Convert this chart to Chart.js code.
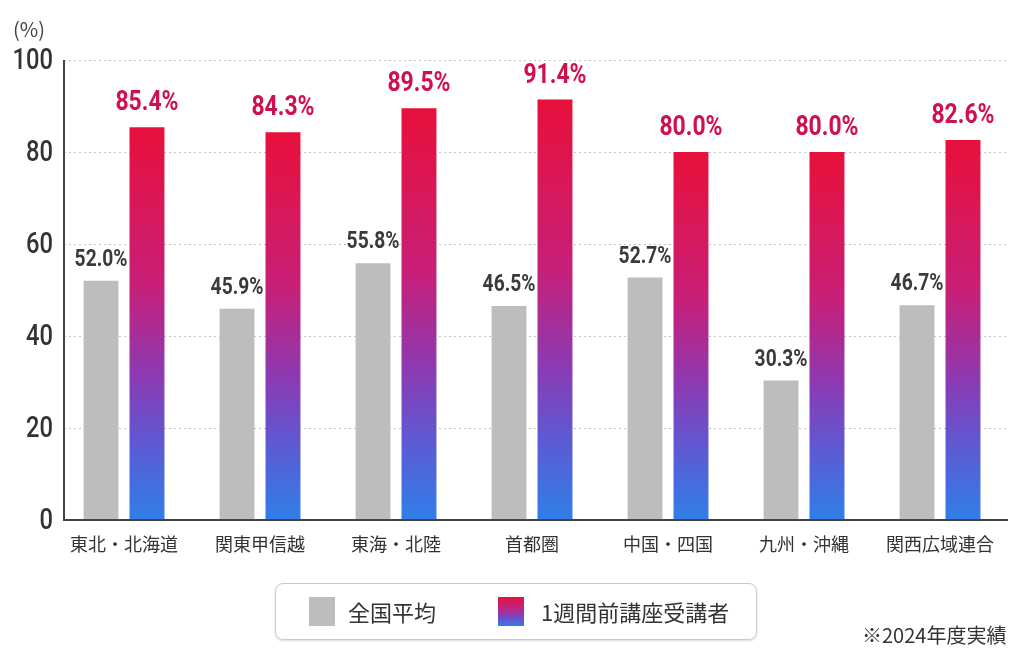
<!DOCTYPE html>
<html>
<head>
<meta charset="utf-8">
<script src="https://cdn.jsdelivr.net/npm/chart.js@4/dist/chart.umd.min.js"></script>
<style>
  html, body { margin: 0; padding: 0; background: #fff; }
  #wrap { position: relative; width: 1024px; height: 664px; }
  #legendBox {
    position: absolute; left: 275px; top: 583px; width: 480px; height: 55px;
    border: 1px solid #c8c8c8; border-radius: 8px; box-shadow: 0 1px 2px rgba(0,0,0,0.15);
    font-family: "Noto Sans CJK JP", sans-serif; font-size: 22px; color: #333;
  }
  .sw { position: absolute; top: 13px; width: 26px; height: 29px; }
  .lbl { position: absolute; top: 11px; line-height: 32px; white-space: nowrap; }
  #note {
    position: absolute; left: 862px; top: 620px; white-space: nowrap;
    font-family: "Noto Sans CJK JP", sans-serif; font-size: 20px; color: #333;
  }
</style>
</head>
<body>
<div id="wrap">
  <canvas id="chart" width="1024" height="664"></canvas>
  <div id="legendBox">
    <div class="sw" style="left:33px;background:#bdbdbd"></div>
    <div class="lbl" id="lg0" style="left:72px"></div>
    <div class="sw" style="left:222px;background:linear-gradient(#e8103a,#b42a8e 45%,#7548c4 70%,#2f7fe8)"></div>
    <div class="lbl" id="lg1" style="left:265px"></div>
  </div>
  <div id="note">※2024年度実績</div>
</div>
<script>
// data
var regions = ["東北・北海道", "関東甲信越", "東海・北陸", "首都圏", "中国・四国", "九州・沖縄", "関西広域連合"];
var nationalAvg = [52.0, 45.9, 55.8, 46.5, 52.7, 30.3, 46.7];
var lectureTakers = [85.4, 84.3, 89.5, 91.4, 80.0, 80.0, 82.6];
var seriesNames = ["全国平均", "1週間前講座受講者"];
var yTicks = [0, 20, 40, 60, 80, 100];

document.getElementById("lg0").textContent = seriesNames[0];
document.getElementById("lg1").textContent = seriesNames[1];

var AXIS_SHIFT = 8;

function barGradient(ctx) {
  var chart = ctx.chart;
  if (!chart.chartArea || ctx.type !== "data") return "#d0104c";
  var ys = chart.scales.y;
  var top = ys.getPixelForValue(ctx.raw);
  var bottom = ys.getPixelForValue(0);
  var g = chart.ctx.createLinearGradient(0, top, 0, bottom);
  g.addColorStop(0, "#e8103a");
  g.addColorStop(0.4, "#c81f78");
  g.addColorStop(0.62, "#8f38b0");
  g.addColorStop(0.8, "#5f58d2");
  g.addColorStop(1, "#2f7fe8");
  return g;
}

// draw text squeezed horizontally (the numerals in the original are condensed)
function narrowText(c, txt, x, y, font, sx, align) {
  c.save();
  c.font = font;
  var w = c.measureText(txt).width * sx;
  var x0 = align === "right" ? x - w : (align === "center" ? x - w / 2 : x);
  c.translate(x0, y);
  c.scale(sx, 1);
  c.textAlign = "left";
  c.fillText(txt, 0, 0);
  c.restore();
}

var decor = {
  id: "decor",
  beforeDatasetsDraw: function(chart) {
    var c = chart.ctx, a = chart.chartArea, ys = chart.scales.y;
    var left = a.left + AXIS_SHIFT;
    c.save();
    c.strokeStyle = "#c4c4c4";
    c.lineWidth = 1;
    c.setLineDash([2, 3]);
    yTicks.forEach(function(v) {
      if (v === 0) return;
      var y = Math.round(ys.getPixelForValue(v)) + 0.5;
      c.beginPath(); c.moveTo(left, y); c.lineTo(a.right, y); c.stroke();
    });
    c.restore();
  },
  afterDatasetsDraw: function(chart) {
    var c = chart.ctx, a = chart.chartArea, ys = chart.scales.y;
    var left = a.left + AXIS_SHIFT;
    c.save();
    c.strokeStyle = "#444";
    c.lineWidth = 2;
    c.beginPath();
    c.moveTo(left, a.top);
    c.lineTo(left, a.bottom);
    c.lineTo(a.right, a.bottom);
    c.stroke();

    // unit label
    c.fillStyle = "#444";
    c.font = "20px 'Noto Sans CJK JP', sans-serif";
    c.textAlign = "left";
    c.textBaseline = "middle";
    c.fillText("(%)", 13, 29);

    // y tick labels
    c.textBaseline = "middle";
    c.fillStyle = "#333";
    yTicks.forEach(function(v) {
      narrowText(c, String(v), 53, ys.getPixelForValue(v) + 1, "500 30px Roboto, sans-serif", 0.79, "right");
    });

    // value labels
    c.textBaseline = "alphabetic";
    chart.data.datasets.forEach(function(ds, di) {
      var meta = chart.getDatasetMeta(di);
      var big = di === 1;
      c.fillStyle = big ? "#d0104c" : "#3a3a3a";
      meta.data.forEach(function(bar, i) {
        var txt = ds.data[i].toFixed(1) + "%";
        if (big) narrowText(c, txt, bar.x, bar.y - 17, "bold 27px Roboto, sans-serif", 0.85, "center");
        else narrowText(c, txt, bar.x, bar.y - 15, "bold 24px Roboto, sans-serif", 0.8, "center");
      });
    });
    c.restore();
  }
};

var chart = new Chart(document.getElementById("chart").getContext("2d"), {
  type: "bar",
  data: {
    labels: regions,
    datasets: [{
      label: seriesNames[0],
      data: nationalAvg,
      backgroundColor: "#bdbdbd"
    }, {
      label: seriesNames[1],
      data: lectureTakers,
      backgroundColor: barGradient
    }]
  },
  options: {
    responsive: false,
    animation: false,
    devicePixelRatio: 1,
    layout: { padding: { top: 60, right: 16, left: 0, bottom: 0 } },
    categoryPercentage: 0.676,
    barPercentage: 0.76,
    plugins: {
      legend: { display: false },
      tooltip: { enabled: false }
    },
    scales: {
      x: {
        grid: { display: false, drawTicks: false },
        border: { display: false },
        ticks: {
          padding: 13,
          color: "#333",
          font: { family: "'Noto Sans CJK JP', sans-serif", size: 18 },
          maxRotation: 0
        },
        afterFit: function(s) { s.height = 144; }
      },
      y: {
        min: 0, max: 100,
        afterBuildTicks: function(s) { s.ticks = yTicks.map(function(v) { return { value: v }; }); },
        grid: { display: false, drawTicks: false },
        border: { display: false },
        ticks: { display: false },
        afterFit: function(s) { s.width = 56; }
      }
    }
  },
  plugins: [decor]
});
</script>
</body>
</html>
